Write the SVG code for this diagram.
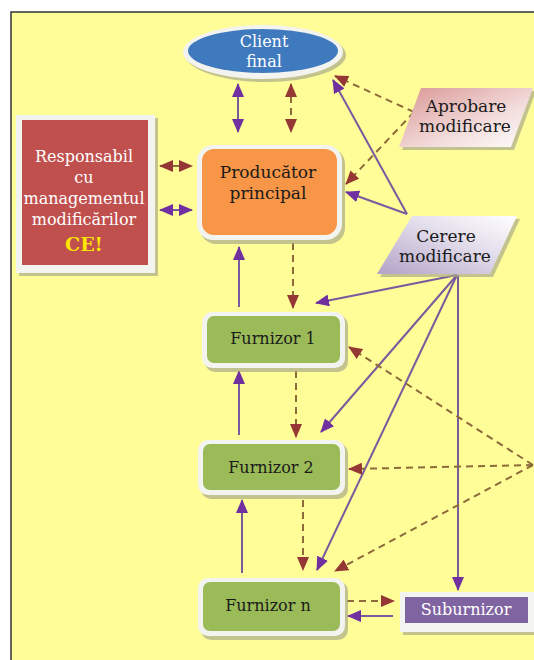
<svg xmlns="http://www.w3.org/2000/svg" width="534" height="660" viewBox="0 0 534 660">
<style>
text{font-family:'DejaVu Serif','Liberation Serif',serif;font-size:16px;text-anchor:middle}
.w{fill:#ffffff}
.d{fill:#1a1a1a}
.b{font-size:17px}
.pl{stroke:#7a5a9e;stroke-width:2;fill:none}
.bl{stroke:#8c6a3a;stroke-width:2;fill:none;stroke-dasharray:7 5}
.sh{fill:#a9a98a;opacity:0.7}
.wb{fill:#f3f3ef}
</style>
<defs>
<marker id="ap" markerUnits="userSpaceOnUse" markerWidth="14" markerHeight="12" refX="13" refY="6" orient="auto-start-reverse"><path d="M0,0 L14,6 L0,12 Z" fill="#7030a0"/></marker>
<marker id="ab" markerUnits="userSpaceOnUse" markerWidth="14" markerHeight="12" refX="13" refY="6" orient="auto-start-reverse"><path d="M0,0 L14,6 L0,12 Z" fill="#953735"/></marker>
<linearGradient id="gA" x1="0" y1="0" x2="1" y2="1"><stop offset="0" stop-color="#d99694"/><stop offset="0.6" stop-color="#f2dcdb"/><stop offset="1" stop-color="#ffffff"/></linearGradient>
<linearGradient id="gC" x1="0" y1="1" x2="1" y2="0"><stop offset="0" stop-color="#b3a2c7"/><stop offset="0.6" stop-color="#e4dfec"/><stop offset="1" stop-color="#ffffff"/></linearGradient>
</defs>
<rect x="0" y="0" width="534" height="660" fill="#ffffff"/>
<rect x="11" y="12" width="530" height="660" fill="#fefd98" stroke="#333333" stroke-width="1.5"/>

<g id="connectors">
<line class="pl" x1="238" y1="84" x2="238" y2="132" marker-start="url(#ap)" marker-end="url(#ap)"/>
<line class="bl" x1="291" y1="84" x2="291" y2="132" marker-start="url(#ab)" marker-end="url(#ab)"/>
<line class="bl" x1="160" y1="166" x2="192" y2="166" stroke-dasharray="none" marker-start="url(#ab)" marker-end="url(#ab)"/>
<line class="pl" x1="160" y1="210" x2="192" y2="210" marker-start="url(#ap)" marker-end="url(#ap)"/>
<line class="bl" x1="414" y1="112" x2="335" y2="76" marker-end="url(#ab)"/>
<line class="bl" x1="414" y1="112" x2="346" y2="184" marker-end="url(#ab)"/>
<line class="pl" x1="407" y1="214" x2="333" y2="80" marker-end="url(#ap)"/>
<line class="pl" x1="407" y1="214" x2="346" y2="192" marker-end="url(#ap)"/>
<line class="pl" x1="457" y1="275" x2="316" y2="303" marker-end="url(#ap)"/>
<line class="pl" x1="457" y1="275" x2="321" y2="432" marker-end="url(#ap)"/>
<line class="pl" x1="457" y1="275" x2="317" y2="570" marker-end="url(#ap)"/>
<line class="pl" x1="458" y1="275" x2="458" y2="590" marker-end="url(#ap)"/>
<line class="pl" x1="239" y1="307" x2="239" y2="247" marker-end="url(#ap)"/>
<line class="bl" x1="293" y1="243" x2="293" y2="308" marker-end="url(#ab)"/>
<line class="pl" x1="239" y1="435" x2="239" y2="371" marker-end="url(#ap)"/>
<line class="bl" x1="296" y1="371" x2="296" y2="437" marker-end="url(#ab)"/>
<line class="pl" x1="242" y1="573" x2="242" y2="500" marker-end="url(#ap)"/>
<line class="bl" x1="303" y1="500" x2="303" y2="570" marker-end="url(#ab)"/>
<line class="bl" x1="347" y1="601" x2="394" y2="601" marker-end="url(#ab)"/>
<line class="pl" x1="393" y1="616" x2="348" y2="616" marker-end="url(#ap)"/>
<line class="bl" x1="533" y1="465" x2="349" y2="347" marker-end="url(#ab)"/>
<line class="bl" x1="533" y1="465" x2="349" y2="469" marker-end="url(#ab)"/>
<line class="bl" x1="533" y1="465" x2="335" y2="571" marker-end="url(#ab)"/>
</g>

<g id="client">
<ellipse cx="266" cy="55" rx="80" ry="27" class="sh"/>
<ellipse cx="263" cy="52" rx="80" ry="27" class="wb"/>
<ellipse cx="263" cy="51" rx="75" ry="22" fill="#3f7abf"/>
<text class="w" x="264" y="47">Client</text>
<text class="w" x="264" y="67">final</text>
</g>

<g id="responsabil">
<rect x="19" y="118" width="139" height="158" class="sh"/>
<rect x="16" y="115" width="139" height="158" class="wb"/>
<rect x="22" y="120" width="126" height="145" fill="#c0504d"/>
<text class="w" x="84" y="162">Responsabil</text>
<text class="w" x="84" y="183">cu</text>
<text class="w" x="84" y="204">managementul</text>
<text class="w" x="84" y="225">modificărilor</text>
<text x="84" y="251" style="font-size:19px;font-weight:bold" fill="#ffe600">CE!</text>
</g>

<g id="producator">
<rect x="200" y="148" width="145" height="96" rx="16" class="sh"/>
<rect x="197" y="145" width="145" height="95" rx="16" class="wb"/>
<rect x="202" y="149" width="135" height="86" rx="12" fill="#f79646"/>
<text class="d b" x="268" y="178">Producător</text>
<text class="d b" x="268" y="199">principal</text>
</g>

<g id="aprobare">
<polygon points="424,91 536,91 514,150 402,150" class="sh"/>
<polygon points="421,88 533,88 511,147 399,147" fill="url(#gA)"/>
<text class="d b" x="466" y="112">Aprobare</text>
<text class="d b" x="465" y="132">modificare</text>
</g>

<g id="cerere">
<polygon points="415,219 520,219 493,277 380,277" class="sh"/>
<polygon points="412,216 517,216 490,274 377,274" fill="url(#gC)"/>
<text class="d b" x="446" y="242">Cerere</text>
<text class="d b" x="445" y="262">modificare</text>
</g>

<g id="furnizor1">
<rect x="205" y="315" width="143" height="57" rx="10" class="sh"/>
<rect x="202" y="312" width="143" height="56" rx="10" class="wb"/>
<rect x="207" y="316" width="133" height="47" rx="7" fill="#9bbb59"/>
<text class="d" x="273" y="344">Furnizor 1</text>
</g>

<g id="furnizor2">
<rect x="201" y="443" width="147" height="56" rx="10" class="sh"/>
<rect x="198" y="440" width="147" height="55" rx="10" class="wb"/>
<rect x="203" y="444" width="137" height="46" rx="7" fill="#9bbb59"/>
<text class="d" x="271" y="473">Furnizor 2</text>
</g>

<g id="furnizorn">
<rect x="201" y="581" width="147" height="59" rx="10" class="sh"/>
<rect x="198" y="578" width="147" height="58" rx="10" class="wb"/>
<rect x="203" y="582" width="137" height="49" rx="7" fill="#9bbb59"/>
<text class="d" x="268" y="611">Furnizor n</text>
</g>

<g id="suburnizor">
<rect x="403" y="595" width="134" height="40" class="sh"/>
<rect x="400" y="592" width="134" height="40" class="wb"/>
<rect x="405" y="597" width="123" height="26" fill="#8064a2"/>
<text class="w" x="466" y="615">Suburnizor</text>
</g>
</svg>
